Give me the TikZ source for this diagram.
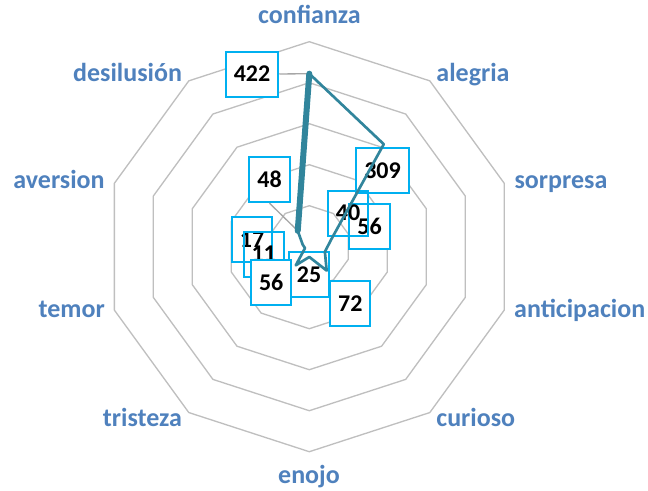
\documentclass[tikz,border=0pt]{standalone}
\usepackage{fontspec}
\setmainfont{Carlito}
\definecolor{colSerie}{HTML}{31859C}
\definecolor{colRejilla}{HTML}{BFBFBF}
\definecolor{colGuia}{HTML}{A6A6A6}
\definecolor{colCaja}{HTML}{00B0F0}
\definecolor{colEje}{HTML}{4F81BD}
\tikzset{
  anillo/.style={draw=colRejilla, line width=1pt, line join=round},
  serie/.style={draw=colSerie, line width=2pt, line join=round},
  grueso/.style={draw=colSerie, line width=4.5pt, line cap=round},
  guia/.style={draw=colGuia, line width=1pt},
  dato/.style={draw=colCaja, fill=white, line width=1.5pt, inner xsep=6pt,
    inner ysep=0pt, minimum height=33.75pt,
    font=\fontsize{18}{20}\selectfont\bfseries},
  eje/.style={anchor=base, text=colEje, inner sep=0pt,
    font=\fontsize{19.5}{22}\selectfont\bfseries}
}
\begin{document}
\begin{tikzpicture}[x=0.75pt,y=-0.75pt]
  \useasboundingbox (0,0) rectangle (648,490);
  \begin{scope}[shift={(309.3,246.7)}]
    \foreach \r in {41,82,...,205}
      \draw[anillo] (-90:\r) \foreach \k in {1,...,9} { -- ({-90+36*\k}:\r) } -- cycle;
    \foreach \v [count=\i from 0] in {422,309,56,40,72,25,56,11,17,48}
      \coordinate (v\i) at ({-90+36*\i}:{0.41*\v});
  \end{scope}
  % etiquetas de datos
  \node[dato] (l9) at (269.5,179.7) {48};
  \node[dato] (l0) at (252,74) {422};
  \node[dato] (l1) at (382.5,170.5) {309};
  \node[dato] (l2) at (369.5,226.3) {56};
  \node[dato, fill=none] (l3) at (348,213) {40};
  \node[dato] (l4) at (350.3,303.8) {72};
  \node[dato] (l5) at (309,274.5) {25};
  \node[dato] (l8) at (252,239.5) {17};
  \node[dato, fill=none] (l7) at (263.7,254) {11};
  \node[dato] (l6) at (271.2,282.2) {56};
  \draw[guia] (l0.east) -- (v0);
  \draw[guia] (l9.south) -- (v9);
  % serie
  \draw[serie] (v0) -- (v1) -- (v2) -- (v3) -- (v4) -- (v5) -- (v6) -- (v7) -- (v8) -- (v9);
  \draw[grueso] (v9) -- (v0);
  % categorias
  \node[eje] (confianza) at (309.5,23) {confianza};
  \node[eje] (alegria) at (473,81.7) {alegria};
  \node[eje] (sorpresa) at (561,188.3) {sorpresa};
  \node[eje] (anticipacion) at (579.7,317.5) {anticipacion};
  \node[eje] (curioso) at (475.8,426.7) {curioso};
  \node[eje] (enojo) at (309,483.3) {enojo};
  \node[eje] (tristeza) at (142.4,426.7) {tristeza};
  \node[eje] (temor) at (71.7,317.5) {temor};
  \node[eje] (aversion) at (59,188.3) {aversion};
  \node[eje] (desilusion) at (127.5,81.7) {desilusión};
\end{tikzpicture}
\end{document}
